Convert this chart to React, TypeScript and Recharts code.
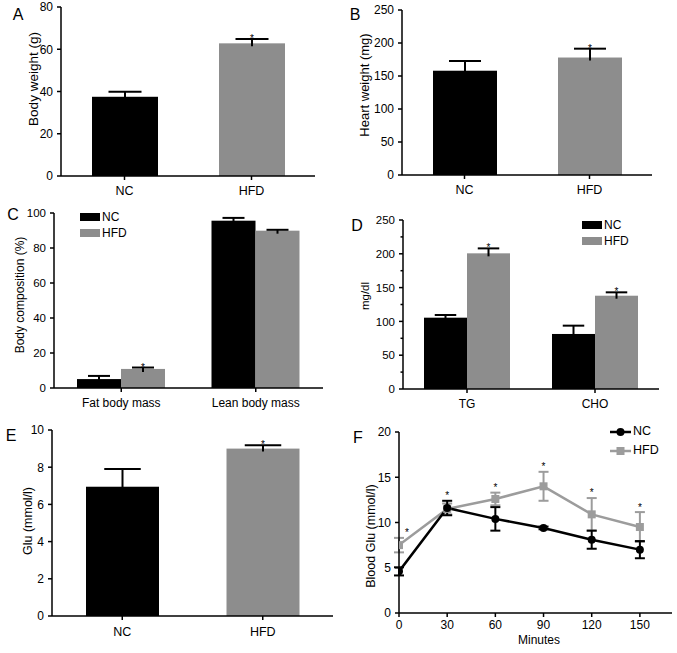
import React from 'react';
import {
  BarChart, Bar, XAxis, YAxis, Cell, Legend, ComposedChart, Line, Scatter, ErrorBar,
} from 'recharts';

// ---------- Data ----------
const groups = ['NC', 'HFD'];

// A: body weight (g)
const bodyWeight = [37.5, 62.8];
const bodyWeightErr = [2.4, 2.1];
const bodyWeightStar = [false, true];
const ticksA = [0, 20, 40, 60, 80];

// B: heart weight (mg)
const heartWeight = [158, 178];
const heartWeightErr = [14.7, 13.4];
const heartWeightStar = [false, true];
const ticksB = [0, 50, 100, 150, 200, 250];

// C: body composition (%)
const compCategories = ['Fat body mass', 'Lean body mass'];
const ncComp = [5.1, 95.6];
const ncCompErr = [1.8, 1.6];
const hfdComp = [10.9, 89.9];
const hfdCompErr = [0.8, 0.5];
const hfdCompStar = [true, false];
const ticksC = [0, 20, 40, 60, 80, 100];

// D: lipids (mg/dl)
const lipidCategories = ['TG', 'CHO'];
const ncLipid = [105.5, 81.4];
const ncLipidErr = [4.0, 12.3];
const hfdLipid = [200.7, 138];
const hfdLipidErr = [7.3, 5.0];
const hfdLipidStar = [true, true];
const ticksD = [0, 25, 50, 75, 100, 125, 150, 175, 200, 225, 250];
const labelsD = [0, 50, 100, 150, 200, 250];

// E: glucose (mmol/l)
const glu = [6.95, 9.0];
const gluErr = [0.95, 0.18];
const gluStar = [false, true];
const ticksE = [0, 2, 4, 6, 8, 10];

// F: glucose tolerance
const minutes = [0, 30, 60, 90, 120, 150];
const ncGlu = [4.6, 11.6, 10.4, 9.4, 8.1, 7.0];
const ncGluErr = [0.45, 0.8, 1.3, 0.15, 1.0, 0.95];
const hfdGlu = [7.5, 11.5, 12.6, 14.0, 10.9, 9.5];
const hfdGluErr = [0.8, 0.6, 0.7, 1.6, 1.8, 1.65];
const starMinutes = [5, 30, 60, 90, 120, 150];
const starLevel = [8.9, 13.0, 13.9, 16.2, 13.4, 11.7];
const ticksFy = [0, 5, 10, 15, 20];
const ticksFx = [0, 30, 60, 90, 120, 150];

// ---------- Colours ----------
const BLACK = '#000000';
const GREY = '#8d8d8d';
const LINE_GREY = '#9c9c9c';

// ---------- Built tables ----------
const dataA = groups.map((g, i) => ({ cat: g, v: bodyWeight[i], e: bodyWeightErr[i], s: bodyWeightStar[i] }));
const dataB = groups.map((g, i) => ({ cat: g, v: heartWeight[i], e: heartWeightErr[i], s: heartWeightStar[i] }));
const dataC = compCategories.map((c, i) => ({
  cat: c, nc: ncComp[i], ncE: ncCompErr[i], ncS: false, hfd: hfdComp[i], hfdE: hfdCompErr[i], hfdS: hfdCompStar[i],
}));
const dataD = lipidCategories.map((c, i) => ({
  cat: c, nc: ncLipid[i], ncE: ncLipidErr[i], ncS: false, hfd: hfdLipid[i], hfdE: hfdLipidErr[i], hfdS: hfdLipidStar[i],
}));
const dataE = groups.map((g, i) => ({ cat: g, v: glu[i], e: gluErr[i], s: gluStar[i] }));
const dataF = minutes.map((m, i) => ({ min: m, nc: ncGlu[i], ncE: ncGluErr[i], hfd: hfdGlu[i], hfdE: hfdGluErr[i] }));
const dataStars = starMinutes.map((m, i) => ({ min: m, star: starLevel[i] }));

// ---------- Helpers ----------
const makeBarShape = (valKey: string, errKey: string, starKey: string) => (p: any) => {
  const { x, y, width, height, fill, payload } = p;
  const v = payload[valKey];
  const e = payload[errKey];
  const k = v ? height / v : 0;
  const top = y - e * k;
  const cx = x + width / 2;
  const cap = width / 4;
  return (
    <g>
      <rect x={x} y={y} width={width} height={height} fill={fill} />
      <line x1={cx} x2={cx} y1={y + 3} y2={top} stroke={BLACK} strokeWidth={2} />
      <line x1={cx - cap} x2={cx + cap} y1={top} y2={top} stroke={BLACK} strokeWidth={2} />
      {payload[starKey] ? (
        <text x={cx} y={top + 3} textAnchor="middle" fontSize={10} fill={BLACK}>*</text>
      ) : null}
    </g>
  );
};

const makeYTick = (labels: number[], fontSize: number) => (p: any) => {
  const { x, y, payload } = p;
  const v = payload.value;
  const major = labels.includes(v);
  const ax = x + 8;
  return (
    <g>
      <line x1={ax - (major ? 4 : 2.5)} x2={ax} y1={y} y2={y} stroke={BLACK} strokeWidth={1.5} />
      {major ? (
        <text x={x} y={y} dy="0.36em" textAnchor="end" fontSize={fontSize} fill={BLACK}>{v}</text>
      ) : null}
    </g>
  );
};

const axisLine = { stroke: BLACK, strokeWidth: 1.5 };
const tickLine = { stroke: BLACK, strokeWidth: 1.5 };

const legendOrder = ['NC', 'HFD'];
const orderItems = (payload: any[]) =>
  (payload || [])
    .filter((it: any) => legendOrder.includes(it.value))
    .sort((a: any, b: any) => legendOrder.indexOf(a.value) - legendOrder.indexOf(b.value));

const SwatchLegend = ({ payload, fontSize }: any) => (
  <div style={{ display: 'flex', flexDirection: 'column' }}>
    {orderItems(payload).map((item: any) => (
      <div key={item.value} style={{ display: 'flex', alignItems: 'center', height: 16, fontSize, lineHeight: '16px', color: BLACK }}>
        <span style={{ display: 'inline-block', width: 20, height: 8, background: item.color, marginRight: 2 }} />
        <span>{item.value}</span>
      </div>
    ))}
  </div>
);

const LineLegend = ({ payload }: any) => (
  <div style={{ display: 'flex', flexDirection: 'column' }}>
    {orderItems(payload).map((item: any) => (
      <div key={item.value} style={{ display: 'flex', alignItems: 'center', height: 19, fontSize: 12.5, lineHeight: '19px', color: BLACK }}>
        <svg width={22} height={10} style={{ marginRight: 1 }}>
          <line x1={0} x2={21} y1={5} y2={5} stroke={item.color} strokeWidth={2.5} />
          {item.value === 'NC' ? (
            <circle cx={10.5} cy={5} r={4} fill={item.color} />
          ) : (
            <rect x={6.5} y={1} width={8} height={8} fill={item.color} />
          )}
        </svg>
        <span>{item.value}</span>
      </div>
    ))}
  </div>
);

type SingleProps = {
  left: number; top: number; width: number; height: number; marginTop: number; yWidth: number;
  data: any[]; domain: [number, number]; ticks: number[]; labels: number[]; barSize: number;
  fontSize: number; xTickMargin: number;
};

const SingleBarPanel = (p: SingleProps) => (
  <div style={{ position: 'absolute', left: p.left, top: p.top }}>
    <BarChart width={p.width} height={p.height} data={p.data} margin={{ top: p.marginTop, right: 0, bottom: 0, left: 0 }}>
      <XAxis dataKey="cat" axisLine={axisLine} tickLine={tickLine} tickSize={4} tickMargin={p.xTickMargin}
        tick={{ fill: BLACK, fontSize: p.fontSize + 0.5 }} interval={0} />
      <YAxis width={p.yWidth} domain={p.domain} ticks={p.ticks} interval={0} axisLine={axisLine} tickLine={false}
        tickSize={4} tickMargin={4} tick={makeYTick(p.labels, p.fontSize)} allowDataOverflow />
      <Bar dataKey="v" barSize={p.barSize} isAnimationActive={false} shape={makeBarShape('v', 'e', 's')}>
        {p.data.map((d, i) => (
          <Cell key={d.cat} fill={i === 0 ? BLACK : GREY} />
        ))}
      </Bar>
    </BarChart>
  </div>
);

type GroupProps = SingleProps & { legendLeft: number; legendTop: number };

const GroupBarPanel = (p: GroupProps) => (
  <div style={{ position: 'absolute', left: p.left, top: p.top }}>
    <BarChart width={p.width} height={p.height} data={p.data} barGap={0}
      margin={{ top: p.marginTop, right: 0, bottom: 0, left: 0 }}>
      <XAxis dataKey="cat" axisLine={axisLine} tickLine={tickLine} tickSize={4} tickMargin={p.xTickMargin}
        tick={{ fill: BLACK, fontSize: p.fontSize + 0.5 }} interval={0} />
      <YAxis width={p.yWidth} domain={p.domain} ticks={p.ticks} interval={0} axisLine={axisLine} tickLine={false}
        tickSize={4} tickMargin={4} tick={makeYTick(p.labels, p.fontSize)} allowDataOverflow />
      <Legend layout="horizontal" verticalAlign="middle" align="center"
        wrapperStyle={{ left: p.legendLeft, top: p.legendTop, width: 'auto' }}
        content={(lp: any) => <SwatchLegend payload={lp.payload} fontSize={12} />} />
      <Bar dataKey="nc" name="NC" fill={BLACK} barSize={p.barSize} isAnimationActive={false}
        shape={makeBarShape('nc', 'ncE', 'ncS')} />
      <Bar dataKey="hfd" name="HFD" fill={GREY} barSize={p.barSize} isAnimationActive={false}
        shape={makeBarShape('hfd', 'hfdE', 'hfdS')} />
    </BarChart>
  </div>
);

const StarShape = (p: any) => (
  <text x={p.cx} y={p.cy + 4} textAnchor="middle" fontSize={10} fill={BLACK}>*</text>
);

const HfdDot = (p: any) => (
  <rect key={`hd${p.index}`} x={p.cx - 4} y={p.cy - 4} width={8} height={8} fill={LINE_GREY} />
);

const overlayText = [
  { t: 'A', x: 18, y: 14, size: 16 },
  { t: 'B', x: 355, y: 14, size: 16 },
  { t: 'C', x: 13, y: 214, size: 16 },
  { t: 'D', x: 357, y: 225, size: 16 },
  { t: 'E', x: 11, y: 435, size: 16 },
  { t: 'F', x: 358, y: 437, size: 16 },
];
const yTitles = [
  { t: 'Body weight (g)', x: 33, y: 79, size: 13.5 },
  { t: 'Heart weight (mg)', x: 364, y: 85, size: 13 },
  { t: 'Body composition (%)', x: 20, y: 295, size: 12 },
  { t: 'mg/dl', x: 365, y: 296, size: 11.5 },
  { t: 'Glu (mmol/l)', x: 27, y: 521, size: 12.5 },
  { t: 'Blood Glu (mmol/l)', x: 370, y: 536, size: 12.5 },
];

export default function App() {
  return (
    <div style={{ position: 'absolute', left: 0, top: 0, width: 677, height: 653, background: '#fff', fontFamily: '"Liberation Sans", Arial, sans-serif', overflow: 'hidden' }}>
      <SingleBarPanel left={0} top={0} width={315} height={206} marginTop={7} yWidth={61} data={dataA}
        domain={[0, 80]} ticks={ticksA} labels={ticksA} barSize={66} fontSize={12} xTickMargin={6} />
      <SingleBarPanel left={337} top={0} width={315} height={205} marginTop={10} yWidth={65} data={dataB}
        domain={[0, 250]} ticks={ticksB} labels={ticksB} barSize={64} fontSize={12} xTickMargin={6} />
      <GroupBarPanel left={0} top={200} width={323} height={218} marginTop={13} yWidth={54} data={dataC}
        domain={[0, 100]} ticks={ticksC} labels={ticksC} barSize={44} fontSize={11.5} xTickMargin={6}
        legendLeft={80} legendTop={9} />
      <GroupBarPanel left={337} top={200} width={322} height={219} marginTop={20} yWidth={66} data={dataD}
        domain={[0, 250]} ticks={ticksD} labels={labelsD} barSize={43} fontSize={11.5} xTickMargin={6}
        legendLeft={245} legendTop={17} />
      <SingleBarPanel left={0} top={420} width={333} height={226} marginTop={10} yWidth={52} data={dataE}
        domain={[0, 10]} ticks={ticksE} labels={ticksE} barSize={73} fontSize={12} xTickMargin={7} />

      <div style={{ position: 'absolute', left: 337, top: 420 }}>
        <ComposedChart width={335} height={223} data={dataF} margin={{ top: 12, right: 0, bottom: 0, left: 0 }}>
          <XAxis dataKey="min" type="number" domain={[0, 170]} ticks={ticksFx} interval={0} axisLine={axisLine}
            tickLine={tickLine} tickSize={4} tickMargin={3} tick={{ fill: BLACK, fontSize: 12 }} allowDataOverflow />
          <YAxis width={62} domain={[0, 20]} ticks={ticksFy} interval={0} axisLine={axisLine} tickLine={false}
            tickSize={4} tickMargin={4} tick={makeYTick(ticksFy, 12)} allowDataOverflow />
          <Legend layout="horizontal" verticalAlign="middle" align="center"
            wrapperStyle={{ left: 273, top: 2, width: 'auto' }}
            content={(lp: any) => <LineLegend payload={lp.payload} />} />
          <Line dataKey="hfd" name="HFD" stroke={LINE_GREY} strokeWidth={2.5} dot={HfdDot} activeDot={false}
            isAnimationActive={false}>
            <ErrorBar dataKey="hfdE" direction="y" width={5} stroke={LINE_GREY} strokeWidth={2} isAnimationActive={false} />
          </Line>
          <Line dataKey="nc" name="NC" stroke={BLACK} strokeWidth={2.5} dot={{ r: 4, fill: BLACK, stroke: BLACK, strokeWidth: 0 }}
            activeDot={false} isAnimationActive={false}>
            <ErrorBar dataKey="ncE" direction="y" width={5} stroke={BLACK} strokeWidth={2} isAnimationActive={false} />
          </Line>
          <Scatter data={dataStars} dataKey="star" shape={StarShape} legendType="none" isAnimationActive={false} />
        </ComposedChart>
      </div>

      <svg width={677} height={653} style={{ position: 'absolute', left: 0, top: 0, pointerEvents: 'none' }}>
        {overlayText.map((o) => (
          <text key={o.t} x={o.x} y={o.y} dy="0.36em" textAnchor="middle" fontSize={o.size} fill={BLACK}>{o.t}</text>
        ))}
        {yTitles.map((o) => (
          <text key={o.t} transform={`translate(${o.x},${o.y}) rotate(-90)`} dy="0.36em" textAnchor="middle"
            fontSize={o.size} fill={BLACK}>{o.t}</text>
        ))}
        <text x={539} y={640} dy="0.36em" textAnchor="middle" fontSize={12} fill={BLACK}>Minutes</text>
      </svg>
    </div>
  );
}
